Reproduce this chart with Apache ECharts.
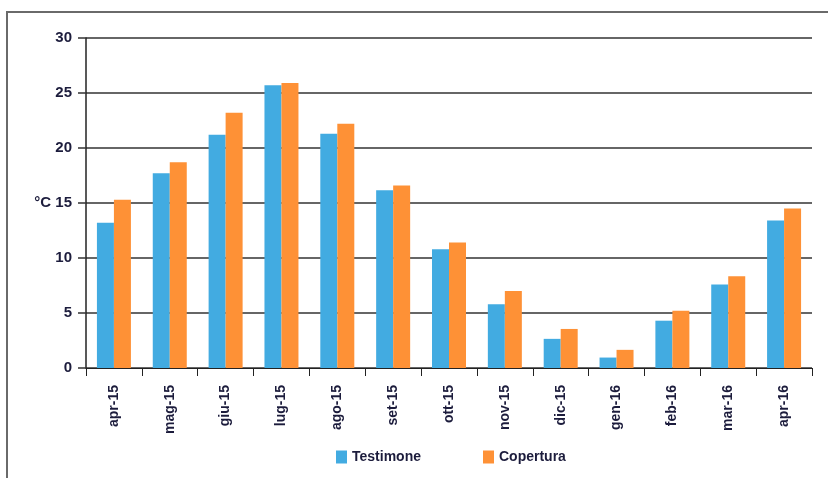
<!DOCTYPE html>
<html>
<head>
<meta charset="utf-8">
<script src="https://cdn.jsdelivr.net/npm/echarts@6/dist/echarts.min.js"></script>
<style>
  html, body { margin: 0; padding: 0; background: #fff; }
  #chart { width: 828px; height: 478px; }
</style>
</head>
<body>
<div id="chart"></div>
<script>
var months = ['apr-15', 'mag-15', 'giu-15', 'lug-15', 'ago-15', 'set-15', 'ott-15',
  'nov-15', 'dic-15', 'gen-16', 'feb-16', 'mar-16', 'apr-16'];
var testimone = [13.2, 17.7, 21.2, 25.7, 21.3, 16.15, 10.8, 5.8, 2.65, 0.95, 4.3, 7.6, 13.4];
var copertura = [15.3, 18.7, 23.2, 25.9, 22.2, 16.6, 11.4, 7.0, 3.55, 1.65, 5.2, 8.35, 14.5];
var seriesNames = ['Testimone', 'Copertura'];

var font = '"Liberation Sans", Arial, sans-serif';
var textColor = '#1c1c3c';

var dom = document.getElementById('chart');
var myChart = echarts.init(dom);
var option = {
  backgroundColor: '#fff',
  animation: false,
  color: ['#42abe1', '#fe9136'],
  graphic: [
    {
      type: 'polyline',
      shape: { points: [[7, 478], [7, 12], [828, 12]] },
      style: { stroke: '#6a6a6a', lineWidth: 2, fill: null }
    }
  ],
  grid: { left: 86, right: 16, top: 38, bottom: 110 },
  legend: {
    bottom: 9,
    left: 331,
    itemGap: 62,
    itemWidth: 11,
    itemHeight: 13,
    itemTextGap: 10,
    icon: 'rect',
    data: seriesNames,
    textStyle: { fontFamily: font, fontWeight: 'bold', fontSize: 14, color: textColor }
  },
  xAxis: {
    type: 'category',
    data: months,
    axisLine: { lineStyle: { color: '#222', width: 1 } },
    axisTick: { show: true, length: 8, lineStyle: { color: '#222' } },
    axisLabel: {
      rotate: 90,
      interval: 0,
      margin: 17,
      fontFamily: font,
      fontWeight: 'bold',
      fontSize: 14,
      color: textColor
    }
  },
  yAxis: {
    type: 'value',
    min: 0,
    max: 30,
    interval: 5,
    axisLine: { show: true, lineStyle: { color: '#222', width: 1.5 } },
    axisTick: { show: true, length: 8, lineStyle: { color: '#333', width: 1.5 } },
    splitLine: { lineStyle: { color: '#333', width: 1.5 } },
    axisLabel: {
      margin: 14,
      fontFamily: font,
      fontWeight: 'bold',
      fontSize: 15,
      color: textColor,
      formatter: function (v) { return v === 15 ? '°C 15' : String(v); }
    }
  },
  series: [
    {
      name: seriesNames[0],
      type: 'bar',
      data: testimone,
      barWidth: 17,
      barGap: '0%'
    },
    {
      name: seriesNames[1],
      type: 'bar',
      data: copertura,
      barWidth: 17,
      barGap: '0%'
    }
  ]
};
myChart.setOption(option, true);
</script>
</body>
</html>
